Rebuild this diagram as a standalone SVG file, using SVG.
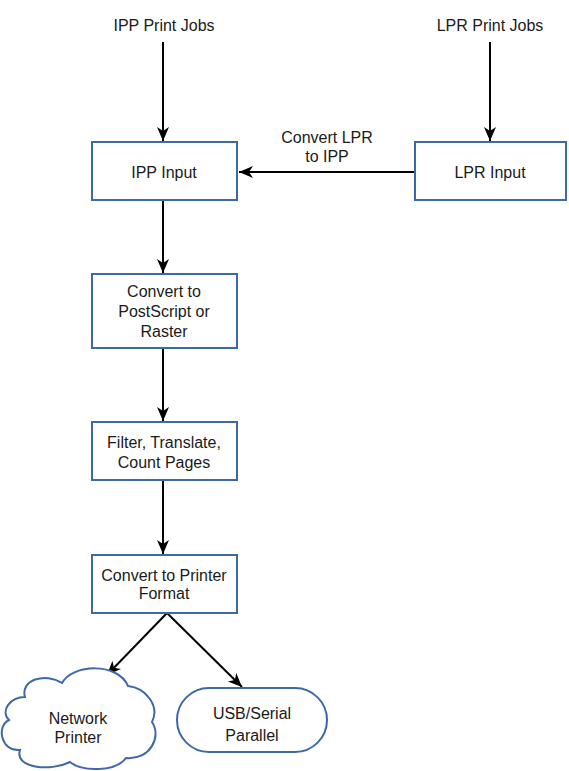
<svg xmlns="http://www.w3.org/2000/svg" width="569" height="771" viewBox="0 0 569 771">
<style>
text{font-family:"Liberation Sans",Arial,sans-serif;font-size:16px;fill:#1a1a1a;text-anchor:middle}
.box{fill:#fff;stroke:#3f68a6;stroke-width:2}
.edge{fill:none;stroke:#000;stroke-width:2;marker-end:url(#arr)}
</style>
<defs>
<marker id="arr" markerUnits="userSpaceOnUse" markerWidth="16" markerHeight="16" viewBox="0 0 16 16" refX="15" refY="8" orient="auto">
<path d="M1,2 L15,8 L1,14 L5,8 Z" fill="#000"/>
</marker>
</defs>
<rect width="569" height="771" fill="#fff"/>
<g id="connectors">
<line class="edge" x1="163" y1="42" x2="163" y2="141"/>
<line class="edge" x1="490" y1="42" x2="490" y2="141"/>
<line class="edge" x1="415" y1="172" x2="239" y2="172"/>
<line class="edge" x1="163" y1="200" x2="163" y2="273"/>
<line class="edge" x1="163" y1="348" x2="163" y2="421"/>
<line class="edge" x1="163" y1="480" x2="163" y2="554"/>
<line class="edge" x1="167" y1="613" x2="107" y2="675"/>
<line class="edge" x1="167" y1="613" x2="242" y2="687"/>
<text x="327" y="143">Convert LPR</text>
<text x="327" y="162">to IPP</text>
</g>
<g id="ipp-jobs"><text x="164" y="31">IPP Print Jobs</text></g>
<g id="lpr-jobs"><text x="490" y="31">LPR Print Jobs</text></g>
<g id="ipp-input">
<rect class="box" x="92" y="142" width="145" height="58"/>
<text x="164" y="178">IPP Input</text>
</g>
<g id="lpr-input">
<rect class="box" x="415" y="142" width="151" height="58"/>
<text x="490" y="178">LPR Input</text>
</g>
<g id="convert-ps">
<rect class="box" x="92" y="274" width="145" height="74"/>
<text x="164" y="297">Convert to</text>
<text x="164" y="317">PostScript or</text>
<text x="164" y="337">Raster</text>
</g>
<g id="filter">
<rect class="box" x="92" y="422" width="145" height="58"/>
<text x="164" y="448">Filter, Translate,</text>
<text x="164" y="468">Count Pages</text>
</g>
<g id="convert-printer">
<rect class="box" x="92" y="555" width="145" height="58"/>
<text x="164" y="581">Convert to Printer</text>
<text x="164" y="599">Format</text>
</g>
<g id="network-printer">
<path class="box" d="M25,697 C20,680 45,672 62,683 C72,664 118,662 128,686 C146,688 160,706 152,722 C162,737 150,760 126,758 C116,772 82,772 70,762 C50,772 14,768 20,750 C1,752 -4,726 9,720 C0,711 10,697 25,697 Z"/>
<text x="78" y="724">Network</text>
<text x="78" y="743">Printer</text>
</g>
<g id="usb-serial">
<rect class="box" x="177" y="688" width="150" height="64" rx="32" ry="32"/>
<text x="252" y="719">USB/Serial</text>
<text x="252" y="741">Parallel</text>
</g>
</svg>
